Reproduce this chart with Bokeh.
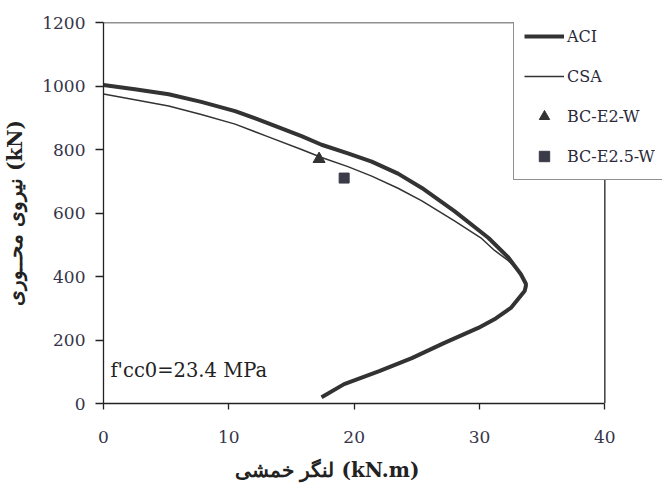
from bokeh.plotting import figure
from bokeh.models import Range1d, Legend, LegendItem, Label, FixedTicker, Title
from bokeh.embed import file_html
from bokeh.resources import INLINE

# ---- data ----
aci_moment = [0, 2.5, 5.2, 7.8, 10.5, 13, 15.8, 17.4, 19.5, 21.4, 23.5, 25.4,
              28, 30.7, 32.3, 33.3, 33.7, 33.7,
              33.6, 32.5, 31.3, 29.9, 27.2, 24.6, 22, 19.2, 17.4]
aci_axial = [1003, 990, 974, 950, 921, 885, 842, 815, 788, 762, 724, 679,
             606, 522, 460, 407, 377, 370,
             354, 301, 268, 238, 191, 143, 102, 61, 20]

csa_moment = [0, 2.5, 5.2, 7.8, 10.5, 13, 15.8, 17.4, 19.5, 21.4, 23.5, 25.4,
              28, 30.1, 31.2, 32.3, 33.3, 33.7, 33.7,
              33.6, 32.5, 31.3, 29.9, 27.2, 24.6, 22, 19.2, 17.4]
csa_axial = [975, 957, 937, 910, 880, 842, 800, 775, 746, 716, 678, 638,
             575, 522, 482, 450, 407, 377, 370,
             354, 301, 268, 238, 191, 143, 102, 61, 20]

e2_moment = [17.2]
e2_axial = [770]
e25_moment = [19.2]
e25_axial = [710]

x_ticks = [0, 10, 20, 30, 40]
y_ticks = [0, 200, 400, 600, 800, 1000, 1200]
x_min, x_max = 0, 40
y_min, y_max = 0, 1200

SERIF = "DejaVu Serif"
INK = "#333333"
TICKCOL = "#35354a"
FRAME = "#222222"

p = figure(width=662, height=494, output_backend="svg", toolbar_location=None,
           x_range=Range1d(x_min, 44.6), y_range=Range1d(y_min, y_max),
           min_border_left=101, min_border_right=0, min_border_top=22,
           min_border_bottom=91)
p.background_fill_color = "white"
p.border_fill_color = "white"
p.grid.visible = False
p.outline_line_color = None

# right and top edges of the chart box (the frame runs on under the legend)
p.line([x_max, x_max], [y_min, y_max], line_color=FRAME, line_width=1.3)
p.line([x_min, x_max], [y_max, y_max], line_color=FRAME, line_width=1.3)

r_aci = p.line(aci_moment, aci_axial, line_color=INK, line_width=4)
r_csa = p.line(csa_moment, csa_axial, line_color=INK, line_width=1.5)
r_e2 = p.scatter(e2_moment, e2_axial, marker="triangle", size=12,
                 fill_color=INK, line_color=INK)
r_e25 = p.scatter(e25_moment, e25_axial, marker="square", size=10,
                  fill_color="#3a3a48", line_color="#3a3a48")

# axes
p.xaxis.ticker = FixedTicker(ticks=x_ticks)
p.yaxis.ticker = FixedTicker(ticks=y_ticks)
p.xaxis.bounds = (x_min, x_max)
for ax in (p.xaxis[0], p.yaxis[0]):
    ax.axis_line_color = FRAME
    ax.axis_line_width = 1.3
    ax.major_tick_line_color = FRAME
    ax.major_tick_line_width = 1.3
    ax.minor_tick_line_color = None
    ax.major_tick_in = 0
    ax.major_label_text_font = SERIF
    ax.major_label_text_font_size = "17px"
    ax.major_label_text_color = TICKCOL

p.xaxis.major_tick_out = 6
p.xaxis.major_label_standoff = 21

p.yaxis.major_tick_out = 8
p.yaxis.major_label_standoff = 10
p.yaxis.axis_label = "نیروی محــوری (kN)"
p.yaxis.axis_label_standoff = 12
p.yaxis.axis_label_text_font = SERIF
p.yaxis.axis_label_text_font_style = "bold"
p.yaxis.axis_label_text_font_size = "20px"
p.yaxis.axis_label_text_color = FRAME

# x axis title, placed like the reference (left of the frame centre)
p.add_layout(Title(text="لنگر خمشی (kN.m)", align="left", offset=131,
                   text_font=SERIF, text_font_style="bold",
                   text_font_size="20px", text_color=FRAME, standoff=20),
             "below")

# annotation
p.add_layout(Label(x=0.55, y=104, text="f'cc0=23.4 MPa", text_font=SERIF,
                   text_font_size="19.5px", text_color="#222222",
                   text_baseline="middle", text_align="left"))

legend = Legend(items=[
    LegendItem(label="ACI", renderers=[r_aci]),
    LegendItem(label="CSA", renderers=[r_csa]),
    LegendItem(label="BC-E2-W", renderers=[r_e2]),
    LegendItem(label="BC-E2.5-W", renderers=[r_e25]),
], location=(410, 223))
legend.label_text_font = SERIF
legend.label_text_font_size = "16px"
legend.label_text_color = "#2a2a3a"
legend.glyph_width = 40
legend.glyph_height = 26
legend.label_height = 26
legend.spacing = 14
legend.padding = 10
legend.margin = 0
legend.label_standoff = 3
legend.border_line_color = FRAME
legend.border_line_width = 1.3
legend.background_fill_color = "white"
legend.background_fill_alpha = 1.0
p.add_layout(legend)

open("out.html", "w").write(file_html(p, INLINE))
